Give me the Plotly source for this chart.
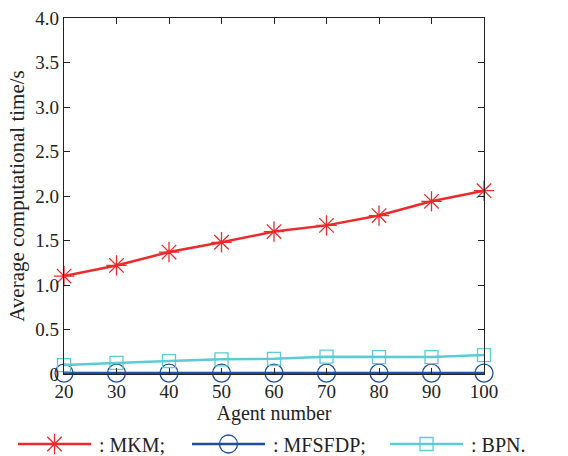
import plotly.graph_objects as go

agents = [20, 30, 40, 50, 60, 70, 80, 90, 100]
mkm = [1.10, 1.22, 1.37, 1.48, 1.60, 1.67, 1.78, 1.94, 2.06]
mfsfdp = [0.01, 0.01, 0.01, 0.01, 0.01, 0.01, 0.01, 0.01, 0.01]
bpn = [0.10, 0.125, 0.145, 0.165, 0.17, 0.195, 0.19, 0.19, 0.213]

y_ticks = [0, 0.5, 1.0, 1.5, 2.0, 2.5, 3.0, 3.5, 4.0]
y_tick_text = ["0", "0.5", "1.0", "1.5", "2.0", "2.5", "3.0", "3.5", "4.0"]

series = [
    (": MKM;", mkm, "#ec2a2e", "asterisk-open", 17),
    (": MFSFDP;", mfsfdp, "#1f4e9e", "circle-open", 18),
    (": BPN.", bpn, "#5ccbd3", "square-open", 13),
]

FONT = "Liberation Serif, Times New Roman, serif"
W, H = 568, 456
PL, PR, PT, PB = 64, 484, 18, 374  # plot box in pixels

fig = go.Figure()
for name, vals, color, sym, size in series:
    fig.add_trace(go.Scatter(
        x=agents, y=vals, mode="lines+markers", name=name,
        line=dict(color=color, width=2.5),
        marker=dict(symbol=sym, size=size, color=color, line=dict(color=color, width=1.3)),
        cliponaxis=False, showlegend=False,
    ))

# Legend row along the bottom edge, laid out on a pixel-based helper axis pair
legend_x = [18, 192, 390]
legend_y = 444
for (name, vals, color, sym, size), lx in zip(series, legend_x):
    fig.add_trace(go.Scatter(
        x=[lx, lx + 73], y=[legend_y, legend_y], xaxis="x2", yaxis="y2",
        mode="lines", line=dict(color=color, width=2.5), showlegend=False, hoverinfo="skip",
    ))
    fig.add_trace(go.Scatter(
        x=[lx + 36.5], y=[legend_y], xaxis="x2", yaxis="y2",
        mode="markers", marker=dict(symbol=sym, size=size, color=color, line=dict(color=color, width=1.3)),
        showlegend=False, hoverinfo="skip", cliponaxis=False,
    ))
    fig.add_annotation(
        x=lx + 79, y=legend_y + 1, xref="x2", yref="y2", text=name, showarrow=False,
        xanchor="left", yanchor="middle", font=dict(family=FONT, size=20, color="#222"),
    )

axis_common = dict(
    showline=True, linecolor="#222", linewidth=1.2, mirror="ticks",
    ticks="inside", ticklen=6, tickwidth=1.2, tickcolor="#222",
    showgrid=False, zeroline=False, automargin=False,
    tickfont=dict(family=FONT, size=19, color="#222"),
)

fig.update_layout(
    width=W, height=H,
    margin=dict(l=0, r=0, t=0, b=0),
    paper_bgcolor="white", plot_bgcolor="rgba(0,0,0,0)",
    font=dict(family=FONT, color="#222"),
    xaxis=dict(
        domain=[PL / W, PR / W],
        range=[20, 100], tickvals=agents, **axis_common,
        title=dict(text="Agent number", font=dict(family=FONT, size=20, color="#222"), standoff=2),
    ),
    yaxis=dict(
        domain=[1 - PB / H, 1 - PT / H],
        range=[0, 4.0], tickvals=y_ticks, ticktext=y_tick_text, **axis_common,
        title=dict(text="Average computational time/s", font=dict(family=FONT, size=21, color="#222"), standoff=4),
    ),
    xaxis2=dict(domain=[0, 1], range=[0, W], visible=False, anchor="y2"),
    yaxis2=dict(domain=[0, 1], range=[H, 0], visible=False, anchor="x2"),
)

fig.write_html("out.html")
